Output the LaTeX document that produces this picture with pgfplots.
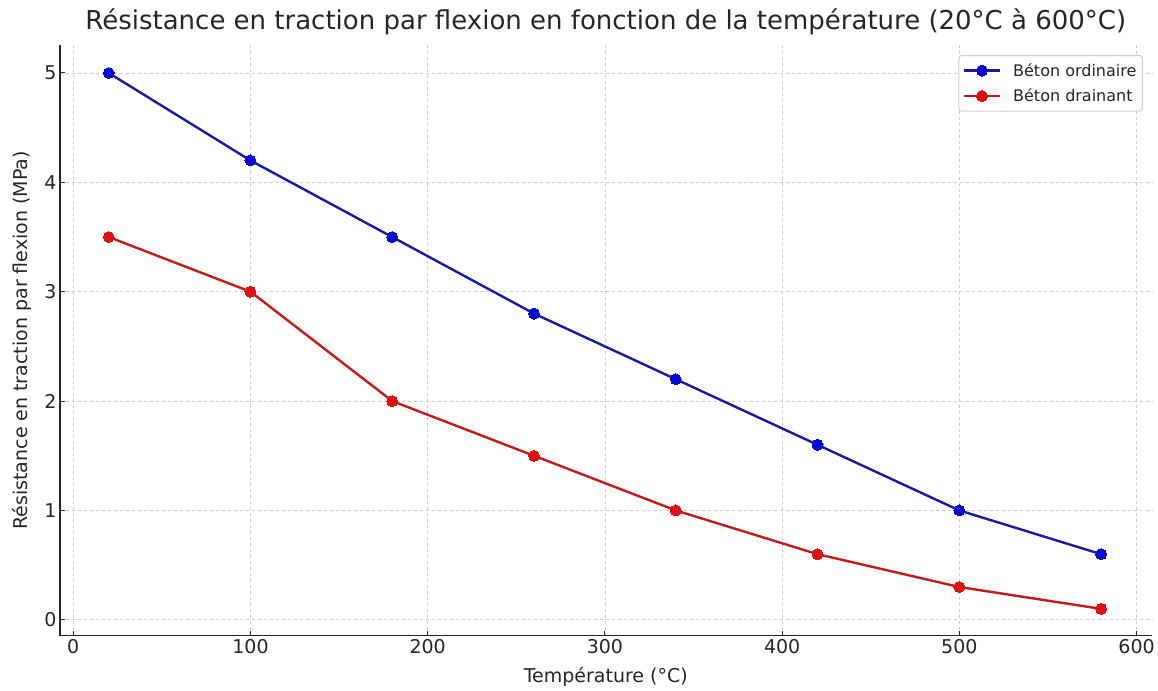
\documentclass[border=0pt]{standalone}
\usepackage{pgfplots}
\pgfplotsset{compat=1.18}
\usepackage{fontspec}
\setmainfont{DejaVu Sans}
\definecolor{txt}{HTML}{262626}
\definecolor{gridc}{HTML}{CCCCCC}
\definecolor{blueline}{HTML}{1A1AA6}
\definecolor{bluemark}{HTML}{0A0AD0}
\definecolor{redline}{HTML}{C41A1A}
\definecolor{redmark}{HTML}{DD1111}
\begin{document}
\begin{tikzpicture}
\begin{axis}[
  scale only axis,
  width=1092pt, height=591pt,
  xmin=-7.5, xmax=608.5,
  ymin=-0.146, ymax=5.256,
  axis x line*=bottom,
  axis y line*=left,
  axis line style={txt, line width=1.2pt},
  xtick={0,100,...,600},
  ytick={0,1,...,5},
  tick align=inside,
  major tick length=5pt,
  tick style={txt, line width=1pt},
  grid=major,
  grid style={gridc, dashed, line width=0.8pt},
  /pgf/number format/assume math mode=true,
  ticklabel style={font=\fontsize{19pt}{22pt}\selectfont, text=txt},
  xlabel={Température (°C)},
  ylabel={Résistance en traction par flexion (MPa)},
  label style={font=\fontsize{19pt}{22pt}\selectfont, text=txt},
  xlabel style={at={(axis description cs:0.5,0)}, anchor=base, yshift=-47pt},
  ylabel style={at={(axis description cs:-0.035,0.5)}, anchor=center},
  title={Résistance en traction par flexion en fonction de la température (20°C à 600°C)},
  title style={at={(axis description cs:0.5,1)}, anchor=base, yshift=9pt, font=\fontsize{26pt}{30pt}\selectfont, text=txt},
  legend style={at={(axis description cs:0.992,0.983)}, anchor=north east,
    font=\fontsize{16pt}{19pt}\selectfont, text=txt, draw=gridc, rounded corners=3pt,
    line width=1pt, inner xsep=4pt, inner ysep=6pt, row sep=7pt},
  legend cell align=left,
  legend image code/.code={\draw[#1] (0pt,0pt) -- (36pt,0pt); \draw[#1, mark repeat=1] plot coordinates {(18pt,0pt)}; \path (46pt,0pt);},
]
\addplot[blueline, line width=2.4pt, mark=*, mark size=5.5pt, mark options={draw=bluemark, fill=bluemark, line width=0pt}]
  coordinates {(20,5.0) (100,4.2) (180,3.5) (260,2.8) (340,2.2) (420,1.6) (500,1.0) (580,0.6)};
\addlegendentry{Béton ordinaire}
\addplot[redline, line width=2.4pt, mark=*, mark size=5.5pt, mark options={draw=redmark, fill=redmark, line width=0pt}]
  coordinates {(20,3.5) (100,3.0) (180,2.0) (260,1.5) (340,1.0) (420,0.6) (500,0.3) (580,0.1)};
\addlegendentry{Béton drainant}
\end{axis}
\path[use as bounding box] (-60pt,-55pt) rectangle (1098pt,636pt);
\end{tikzpicture}
\end{document}
